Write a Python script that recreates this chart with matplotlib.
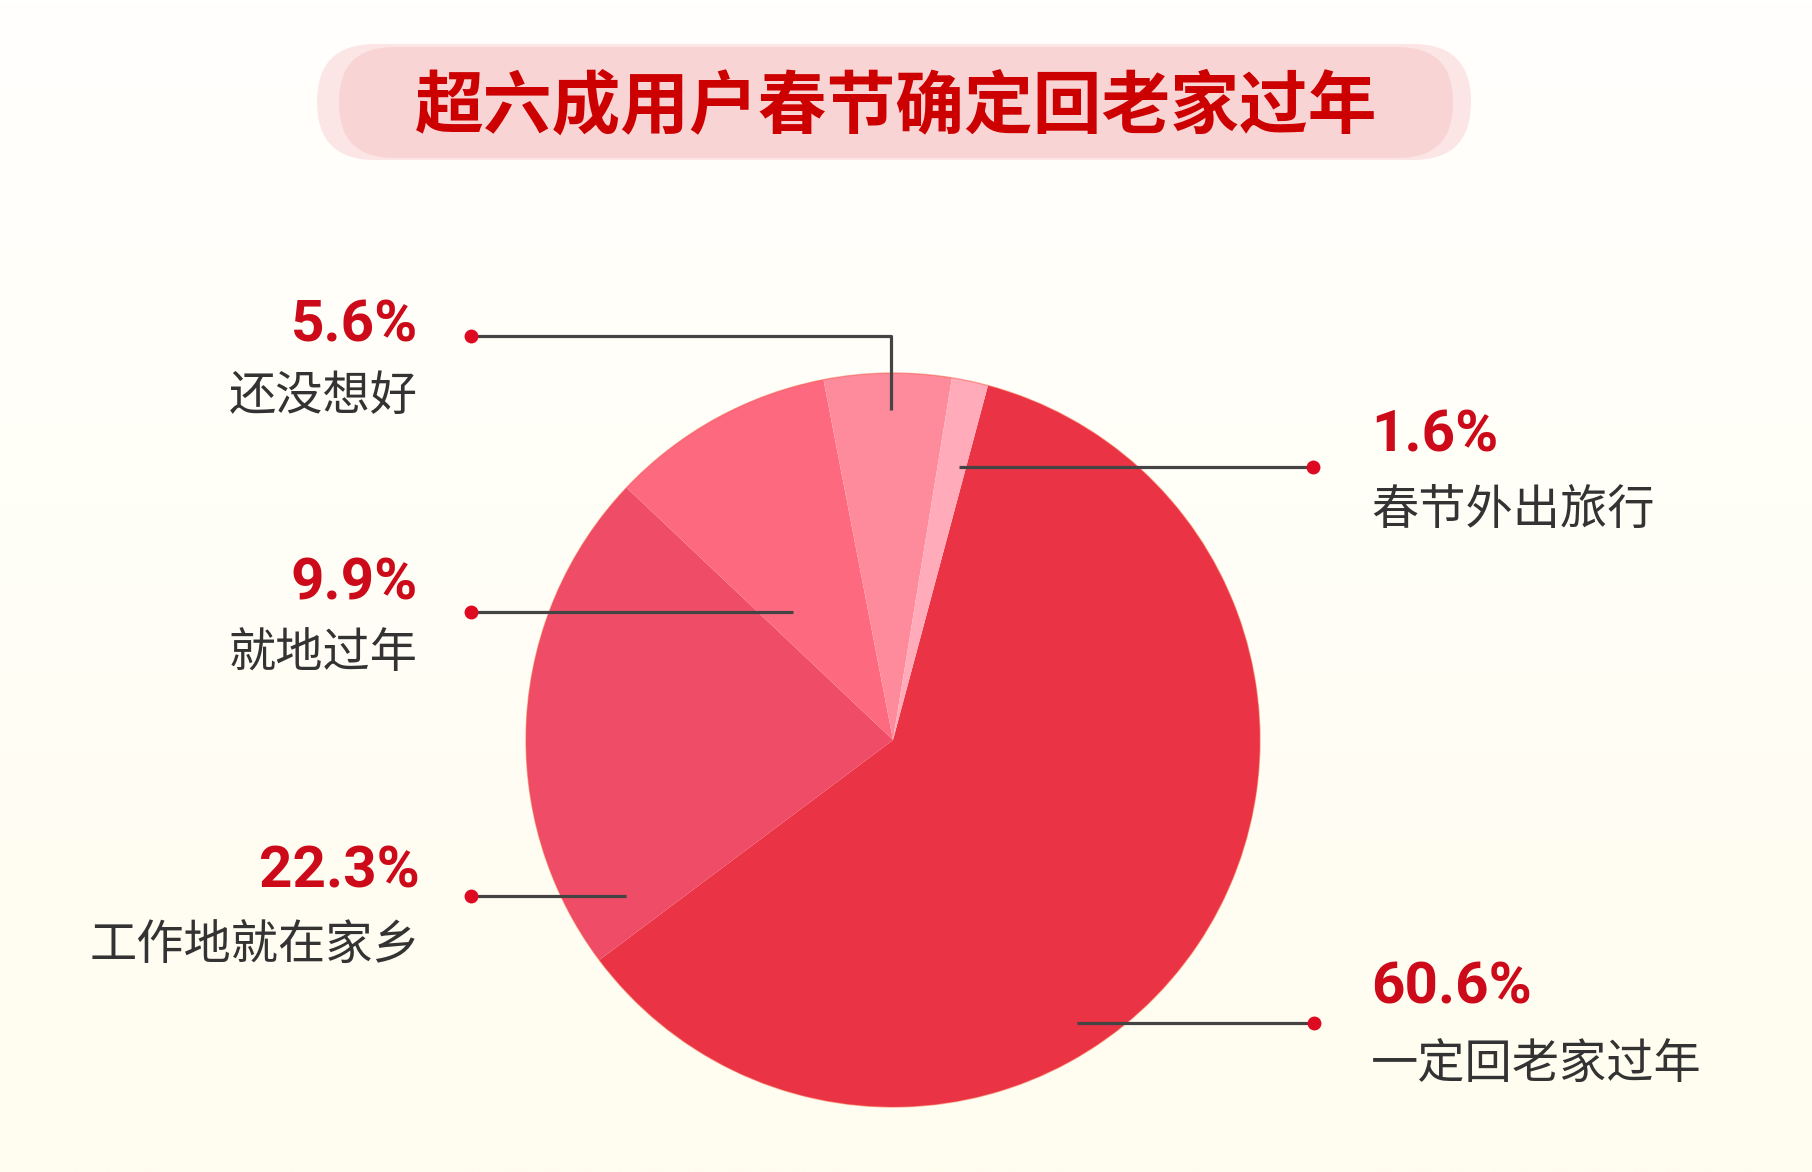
import matplotlib
matplotlib.use('Agg')
import matplotlib.pyplot as plt
import numpy as np
from matplotlib.patches import FancyBboxPatch, Circle
import matplotlib.colors as mcolors

plt.rcParams['font.family'] = ['Noto Sans CJK SC', 'DejaVu Sans']

# ---------------- data ----------------
title = '超六成用户春节确定回老家过年'
categories = ['一定回老家过年', '工作地就在家乡', '就地过年', '还没想好', '春节外出旅行']
values = [60.6, 22.3, 9.9, 5.6, 1.6]
pct_labels = ['60.6%', '22.3%', '9.9%', '5.6%', '1.6%']
colors = ['#EA3344', '#EF4C67', '#FD6A80', '#FE8B9B', '#FFABB9']

# ---------------- layout (pixel coords, y down) ----------------
W, H = 1812, 1172
center = (893, 740)
radius = 367

# label anchor: (text x, pct baseline, label baseline, ha)
label_pos = {
    '一定回老家过年': (1371, 1003, 1078, 'left'),
    '工作地就在家乡': (420, 888, 959, 'right'),
    '就地过年': (418, 600, 667, 'right'),
    '还没想好': (418, 342, 410, 'right'),
    '春节外出旅行': (1371, 452, 524, 'left'),
}
leaders = {
    '一定回老家过年': [(1077, 1023), (1314, 1023)],
    '工作地就在家乡': [(626, 896), (471, 896)],
    '就地过年': [(793, 612), (471, 612)],
    '还没想好': [(891, 410), (891, 336), (471, 336)],
    '春节外出旅行': [(959, 467), (1313, 467)],
}

fig = plt.figure(figsize=(W / 100, H / 100), dpi=100)
ax = fig.add_axes([0, 0, 1, 1])

# background gradient
top = np.array(mcolors.to_rgb('#FFFFFD'))
bot = np.array(mcolors.to_rgb('#FFFDEF'))
t = np.linspace(0, 1, 256)[:, None, None]
grad = top * (1 - t) + bot * t
grad = np.repeat(grad, 2, axis=1)
ax.imshow(grad, extent=(0, W, H, 0), aspect='auto', zorder=0, interpolation='bilinear')

# pie (y axis inverted -> counterclock=True draws visually clockwise)
wedges, _ = ax.pie(values, colors=colors, startangle=-75, counterclock=True,
                   center=center, radius=radius,
                   wedgeprops=dict(linewidth=0, edgecolor='none'))
for w in wedges:
    w.set_zorder(2)
ax.add_patch(Circle(center, radius, fill=False, edgecolor='#F2503A', lw=1.0, alpha=0.45, zorder=3))

# title pill
ax.add_patch(FancyBboxPatch((317, 44), 1471 - 317, 116,
                            boxstyle='round,pad=0,rounding_size=58',
                            facecolor='#FCE5E5', edgecolor='none', zorder=1))
ax.add_patch(FancyBboxPatch((339, 47), 1453 - 339, 111,
                            boxstyle='round,pad=0,rounding_size=55',
                            facecolor='#F9D4D4', edgecolor='none', zorder=1))
ax.text(896, 107, title, ha='center', va='center', fontsize=49.5, fontweight='black',
        color='#CC0000', zorder=4)

# leaders, dots and labels
for cat, pct in zip(categories, pct_labels):
    pts = leaders[cat]
    xs = [p[0] for p in pts]
    ys = [p[1] for p in pts]
    ax.plot(xs, ys, color='#444444', lw=2.3, solid_capstyle='butt', zorder=5)
    ax.plot([xs[-1]], [ys[-1]], 'o', ms=10, color='#DD0A22', mec='none', zorder=6)
    x, yb1, yb2, ha = label_pos[cat]
    ax.text(x, yb1, pct, ha=ha, va='baseline', fontsize=42, fontweight='bold',
            family=['Roboto', 'DejaVu Sans'], color='#CC0A1A', zorder=6)
    ax.text(x, yb2, cat, ha=ha, va='baseline', fontsize=34, color='#333333', zorder=6)

ax.set_xlim(0, W)
ax.set_ylim(H, 0)
ax.set_aspect('equal')
ax.axis('off')

fig.savefig('out.png', dpi=100)
